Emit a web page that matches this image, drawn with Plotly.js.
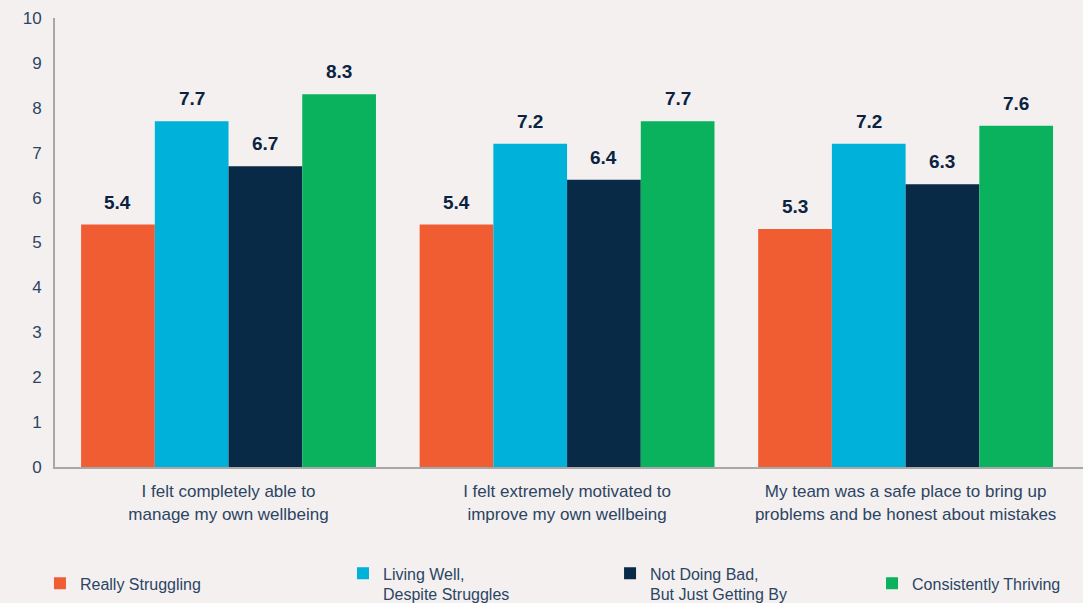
<!DOCTYPE html>
<html>
<head>
<meta charset="utf-8">
<script src="https://cdn.plot.ly/plotly-3.0.1.min.js"></script>
<style>html,body{margin:0;padding:0;background:#f4f0f0;}#chart{width:1083px;height:603px;}</style>
</head>
<body>
<div id="chart"></div>
<script>
const categories = [
  "I felt completely able to<br>manage my own wellbeing",
  "I felt extremely motivated to<br>improve my own wellbeing",
  "My team was a safe place to bring up<br>problems and be honest about mistakes"
];
const seriesNames = ["Really Struggling", "Living Well,<br>Despite Struggles", "Not Doing Bad,<br>But Just Getting By", "Consistently Thriving"];
const reallyStruggling = [5.4, 5.4, 5.3];
const livingWell = [7.7, 7.2, 7.2];
const notDoingBad = [6.7, 6.4, 6.3];
const consistentlyThriving = [8.3, 7.7, 7.6];
const yTicks = [0,1,2,3,4,5,6,7,8,9,10];

const colors = ["#f15d33", "#00b1d9", "#082a47", "#0ab25e"];
const values = [reallyStruggling, livingWell, notDoingBad, consistentlyThriving];
const textColor = "#2b4563";
const legendIds = ["legend", "legend2", "legend3", "legend4"];

const traces = values.map((v, i) => ({
  type: "bar",
  name: seriesNames[i],
  x: [0,1,2],
  y: v,
  marker: {color: colors[i]},
  legend: legendIds[i],
  hoverinfo: "skip"
}));

const bargap = 0.129;
const nSeries = values.length;
const xRange = [-0.5126, 2.524];
const plotW = 1083 - 55;
const pxPerCat = plotW / (xRange[1] - xRange[0]);
const barPx = (1 - bargap) / nSeries * pxPerCat;

const annotations = [];
values.forEach((v, j) => {
  v.forEach((d, i) => {
    annotations.push({
      x: i, y: d, xref: "x", yref: "y",
      xshift: (j - (nSeries - 1) / 2) * barPx,
      yshift: 10, yanchor: "bottom", showarrow: false,
      text: "<b>" + d.toFixed(1) + "</b>",
      font: {family: "Liberation Sans, Arial, sans-serif", size: 19, color: "#0b2340"}
    });
  });
});

const legendBase = {
  orientation: "h", xanchor: "left", yanchor: "top",
  xref: "container", yref: "container",
  font: {size: 16, color: textColor},
  bgcolor: "rgba(0,0,0,0)", valign: "top", itemclick: false
};

const layout = {
  width: 1083, height: 603,
  paper_bgcolor: "#f4f0f0", plot_bgcolor: "#f4f0f0",
  margin: {l: 55, r: 0, t: 18, b: 136, autoexpand: false},
  barmode: "group", bargap: bargap, bargroupgap: 0,
  font: {family: "Liberation Sans, Arial, sans-serif", color: textColor, size: 16},
  xaxis: {
    range: xRange,
    tickmode: "array", tickvals: [0,1,2], ticktext: categories,
    showline: true, linecolor: "#a8a8a8", linewidth: 2,
    showgrid: false, zeroline: false, ticks: "",
    ticklabelstandoff: 8,
    tickfont: {size: 17, color: textColor}
  },
  yaxis: {
    range: [0, 10], tickmode: "array", tickvals: yTicks,
    showline: true, linecolor: "#a8a8a8", linewidth: 2,
    showgrid: false, zeroline: false, ticks: "",
    ticklabelstandoff: 8,
    tickfont: {size: 17, color: textColor}
  },
  annotations: annotations,
  showlegend: true,
  legend: Object.assign({}, legendBase, {x: 0.0369, y: 0.0607}),
  legend2: Object.assign({}, legendBase, {x: 0.3167, y: 0.0773}),
  legend3: Object.assign({}, legendBase, {x: 0.5633, y: 0.0773}),
  legend4: Object.assign({}, legendBase, {x: 0.8052, y: 0.0607})
};

Plotly.newPlot("chart", traces, layout, {displayModeBar: false, staticPlot: true});
</script>
</body>
</html>
